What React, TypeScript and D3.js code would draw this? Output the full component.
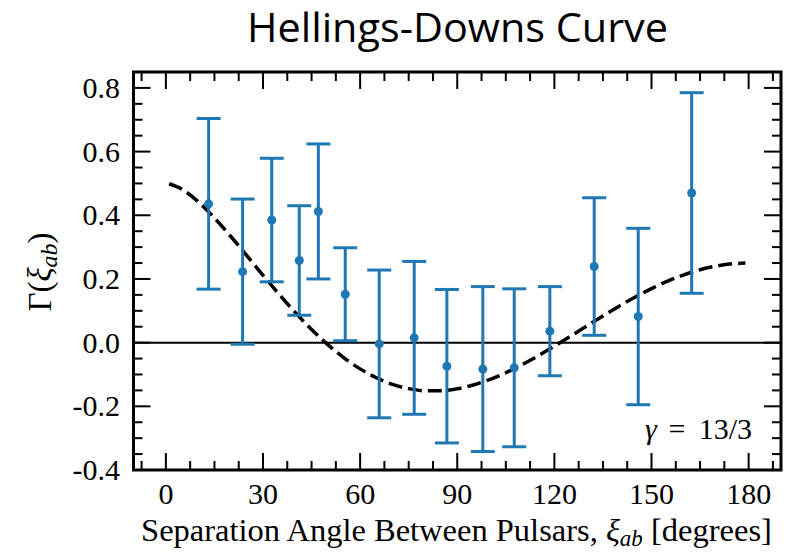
import React from "react";
import * as d3 from "d3";

// Measured cross-correlation per angular bin
const binAngles = [13.2, 23.7, 32.7, 41.2, 47.1, 55.4, 65.9, 76.7, 86.8, 97.9, 107.6, 118.6, 132.3, 145.9, 162.4];
const binCorr = [0.436, 0.223, 0.385, 0.258, 0.412, 0.152, -0.004, 0.015, -0.074, -0.083, -0.079, 0.036, 0.239, 0.082, 0.470];
const binErr = [0.268, 0.228, 0.194, 0.172, 0.212, 0.146, 0.232, 0.24, 0.241, 0.259, 0.248, 0.14, 0.216, 0.277, 0.315];

// Hellings-Downs expectation, sampled every 5 degrees
const hdAngles = [1, 5, 10, 15, 20, 25, 30, 35, 40, 45, 50, 55, 60, 65, 70, 75, 80, 85, 90, 95, 100, 105, 110, 115, 120, 125, 130, 135, 140, 145, 150, 155, 160, 165, 170, 175, 179];
const hdValues = [0.499, 0.4816, 0.4425, 0.3917, 0.3341, 0.2732, 0.2116, 0.1514, 0.0942, 0.0414, -0.0062, -0.0476, -0.0824, -0.1102, -0.1309, -0.1445, -0.1511, -0.1511, -0.1449, -0.1329, -0.1159, -0.0945, -0.0693, -0.0413, -0.0111, 0.0203, 0.0522, 0.0839, 0.1145, 0.1433, 0.1697, 0.1931, 0.2130, 0.2289, 0.2405, 0.2476, 0.2499];

const xTicks = [0, 30, 60, 90, 120, 150, 180];
const yTicks = [-0.4, -0.2, 0.0, 0.2, 0.4, 0.6, 0.8];
const yTickLabels = ["-0.4", "-0.2", "0.0", "0.2", "0.4", "0.6", "0.8"];

const W = 798;
const H = 558;
const left = 133.5;
const right = 781;
const top = 72;
const bottom = 470;
const blue = "#1f77b4";
const serifStyle = { fontFamily: '"Liberation Serif", "Times New Roman", "DejaVu Serif", serif' };

export default function App() {
  const x = d3.scaleLinear().domain([-10, 190]).range([left, right]);
  const y = d3.scaleLinear().domain([-0.4, 0.85]).range([bottom, top]);

  const xMinor = d3.range(-7.5, 190, 7.5).filter((v) => Math.abs(v % 30) > 1e-6);
  const yMinor = d3
    .range(-7, 17)
    .filter((k) => k % 4 !== 0)
    .map((k) => k * 0.05);

  const hdLine = d3
    .line<number>()
    .x((_, i) => x(hdAngles[i]))
    .y((d) => y(d))
    .curve(d3.curveMonotoneX);

  const major = 17;
  const minor = 9;
  const capHalf = 12;

  return (
    <svg width={W} height={H} style={{ display: "block", position: "absolute", left: 0, top: 0 }}>
      <rect width={W} height={H} fill="#fff" />
      <text
        x={457.5}
        y={42}
        textAnchor="middle"
        style={{ fontFamily: '"Open Sans", "Noto Sans", sans-serif' }}
        fontSize={40}
        textLength={421}
        lengthAdjust="spacingAndGlyphs"
        fill="#000"
      >
        Hellings-Downs Curve
      </text>

      {/* zero reference */}
      <line x1={left} x2={right} y1={y(0)} y2={y(0)} stroke="#000" strokeWidth={2} />

      {/* theory curve */}
      <path d={hdLine(hdValues) ?? ""} fill="none" stroke="#000" strokeWidth={3.5} strokeDasharray="14 6" />

      {/* measurements with error bars */}
      {binAngles.map((a, i) => {
        const cx = x(a);
        const lo = y(binCorr[i] - binErr[i]);
        const hi = y(binCorr[i] + binErr[i]);
        return (
          <g key={i} stroke={blue} strokeWidth={3}>
            <line x1={cx} x2={cx} y1={lo} y2={hi} />
            <line x1={cx - capHalf} x2={cx + capHalf} y1={lo} y2={lo} />
            <line x1={cx - capHalf} x2={cx + capHalf} y1={hi} y2={hi} />
            <circle cx={cx} cy={y(binCorr[i])} r={4.5} fill={blue} stroke="none" />
          </g>
        );
      })}

      {/* ticks on all four sides, pointing inward */}
      <g stroke="#000" strokeWidth={2}>
        {xTicks.map((t) => (
          <g key={"xt" + t}>
            <line x1={x(t)} x2={x(t)} y1={bottom} y2={bottom - major} />
            <line x1={x(t)} x2={x(t)} y1={top} y2={top + major} />
          </g>
        ))}
        {xMinor.map((t) => (
          <g key={"xm" + t}>
            <line x1={x(t)} x2={x(t)} y1={bottom} y2={bottom - minor} />
            <line x1={x(t)} x2={x(t)} y1={top} y2={top + minor} />
          </g>
        ))}
        {yTicks.map((t) => (
          <g key={"yt" + t}>
            <line x1={left} x2={left + major} y1={y(t)} y2={y(t)} />
            <line x1={right} x2={right - major} y1={y(t)} y2={y(t)} />
          </g>
        ))}
        {yMinor.map((t) => (
          <g key={"ym" + t}>
            <line x1={left} x2={left + minor} y1={y(t)} y2={y(t)} />
            <line x1={right} x2={right - minor} y1={y(t)} y2={y(t)} />
          </g>
        ))}
      </g>

      <rect x={left} y={top} width={right - left} height={bottom - top} fill="none" stroke="#000" strokeWidth={3} />

      {/* tick labels */}
      <g style={serifStyle} fontSize={30} fill="#000">
        {xTicks.map((t) => (
          <text key={"xl" + t} x={x(t)} y={504} textAnchor="middle">
            {t}
          </text>
        ))}
        {yTicks.map((t, i) => (
          <text key={"yl" + t} x={120} y={y(t)} dy="0.33em" textAnchor="end">
            {yTickLabels[i]}
          </text>
        ))}
      </g>

      {/* axis titles */}
      <text x={456.5} y={541} textAnchor="middle" style={serifStyle} fontSize={32.5} fill="#000">
        Separation Angle Between Pulsars,{" "}
        <tspan fontStyle="italic">ξ</tspan>
        <tspan fontStyle="italic" fontSize={23} dy={5}>ab</tspan>
        <tspan dy={-5}> [degrees]</tspan>
      </text>
      <text transform="translate(51,272) rotate(-90)" textAnchor="middle" style={serifStyle} fontSize={33} fill="#000">
        Γ(<tspan fontStyle="italic">ξ</tspan>
        <tspan fontStyle="italic" fontSize={24} dy={6}>ab</tspan>
        <tspan dy={-6}>)</tspan>
      </text>

      <g style={serifStyle} fontSize={30} fill="#000">
        <text x={645} y={439} fontStyle="italic">γ</text>
        <text x={677} y={439} textAnchor="middle">=</text>
        <text x={752} y={439} textAnchor="end">13/3</text>
      </g>
    </svg>
  );
}
